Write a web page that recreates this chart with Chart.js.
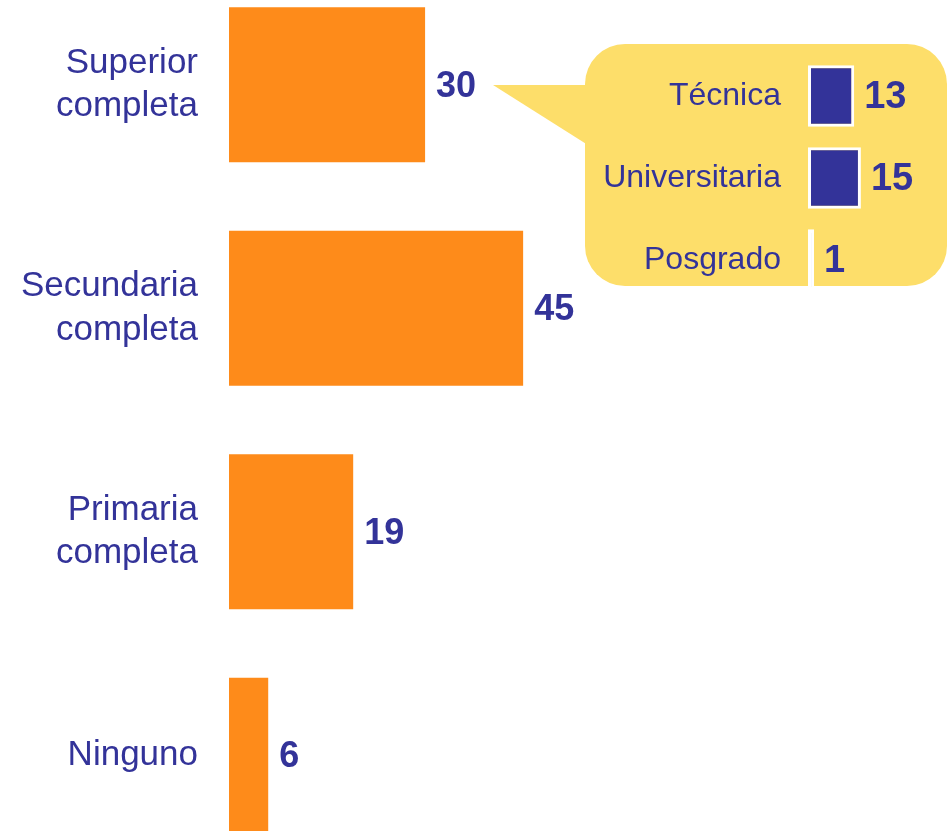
<!DOCTYPE html>
<html><head><meta charset="utf-8">
<script src="https://cdn.jsdelivr.net/npm/chart.js@4"></script>
<style>
html,body{margin:0;padding:0;background:#fff;overflow:hidden;width:948px;height:831px;}
#main{position:absolute;left:0;top:-27px;width:948px;height:894px;}
#inset{position:absolute;left:480px;top:40px;width:468px;height:262px;}
</style></head><body>
<div id="main"><canvas id="c1"></canvas></div>
<div id="inset"><canvas id="c2"></canvas></div>
<script>
const categories = [['Superior','completa'],['Secundaria','completa'],['Primaria','completa'],'Ninguno'];
const values = [30,45,19,6];
const subCategories = ['Técnica','Universitaria','Posgrado'];
const subValues = [13,15,1];

const FONT = '"Liberation Sans", Arial, Helvetica, sans-serif';
const NAVY = '#333399';

const valueLabels = {
  id:'valueLabels',
  afterDatasetsDraw(chart, args, opts){
    const ctx = chart.ctx;
    const meta = chart.getDatasetMeta(0);
    const data = chart.data.datasets[0].data;
    ctx.save();
    ctx.font = 'bold ' + opts.size + 'px ' + FONT;
    ctx.fillStyle = NAVY;
    ctx.textAlign = 'left';
    ctx.textBaseline = 'middle';
    meta.data.forEach((bar,i)=>{
      ctx.fillText(String(data[i]), bar.x + opts.offset, bar.y + opts.dy);
    });
    ctx.restore();
  }
};

const calloutBg = {
  id:'calloutBg',
  beforeDraw(chart){
    const ctx = chart.ctx;
    ctx.save();
    ctx.fillStyle = '#FDDE6A';
    ctx.beginPath();
    ctx.moveTo(13,45);
    ctx.lineTo(130,45);
    ctx.lineTo(130,119);
    ctx.closePath();
    ctx.fill();
    ctx.beginPath();
    ctx.roundRect(105,4,362,242,40);
    ctx.fill();
    ctx.restore();
  }
};

function fixAxis(w){
  return function(s){ s.width = w; s.paddingTop = 0; s.paddingBottom = 0; };
}

new Chart(document.getElementById('c1'), {
  type:'bar',
  data:{labels:categories, datasets:[{data:values, backgroundColor:'#FE8B1A', borderWidth:0, barPercentage:0.694, categoryPercentage:1}]},
  options:{
    indexAxis:'y', responsive:true, maintainAspectRatio:false, animation:false,
    layout:{padding:0},
    plugins:{legend:{display:false}, tooltip:{enabled:false}, valueLabels:{size:36, offset:11, dy:2}},
    scales:{
      x:{min:0, max:110, display:false},
      y:{grid:{display:false, drawTicks:false}, border:{display:false},
         ticks:{color:NAVY, padding:31, font:{family:FONT, size:35, lineHeight:1.25}},
         afterFit:fixAxis(229)}
    }
  },
  plugins:[valueLabels]
});

new Chart(document.getElementById('c2'), {
  type:'bar',
  data:{labels:subCategories, datasets:[{data:subValues, base:-0.8, backgroundColor:NAVY, borderColor:'#FFFFFF', borderWidth:3, borderSkipped:false, barPercentage:0.75, categoryPercentage:1}]},
  options:{
    indexAxis:'y', responsive:true, maintainAspectRatio:false, animation:false,
    layout:{padding:{top:15, bottom:1, left:0, right:0}},
    plugins:{legend:{display:false}, tooltip:{enabled:false}, valueLabels:{size:38, offset:10, dy:2}},
    scales:{
      x:{min:-0.8, max:41, display:false},
      y:{grid:{display:false, drawTicks:false}, border:{display:false},
         ticks:{color:NAVY, padding:27, font:{family:FONT, size:32}},
         afterFit:fixAxis(328)}
    }
  },
  plugins:[calloutBg, valueLabels]
});
</script>
</body></html>
